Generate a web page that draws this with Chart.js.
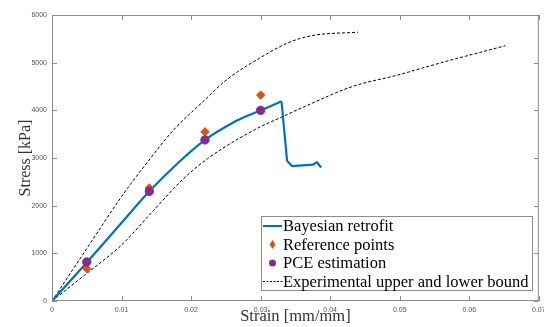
<!DOCTYPE html>
<html>
<head>
<meta charset="utf-8">
<script src="https://cdn.jsdelivr.net/npm/chart.js@4.4.0/dist/chart.umd.min.js"></script>
<style>
  html, body { margin: 0; padding: 0; background: #fff; }
  #wrap { width: 544px; height: 327px; position: relative; }
</style>
</head>
<body>
<div id="wrap"><canvas id="stressChart"></canvas></div>
<script>
// Bayesian retrofit curve: rising branch, then the drop after the peak
const bayesStrain = [0, 0.005, 0.010, 0.014, 0.018, 0.022, 0.026, 0.028, 0.030, 0.0318, 0.033];
const bayesStress = [0, 810, 1640, 2300, 2880, 3380, 3740, 3880, 4000, 4110, 4190];
const dropStrain = [0.033, 0.0338, 0.0345, 0.0375, 0.0381, 0.0387];
const dropStress = [4190, 2940, 2830, 2860, 2910, 2800];

// reference points and PCE estimation
const refStrain = [0.005, 0.014, 0.022, 0.030];
const refStress = [680, 2370, 3550, 4320];
const pceStrain = [0.005, 0.014, 0.022, 0.030];
const pceStress = [820, 2300, 3380, 4000];

// experimental bounds
const upperStrain = [0, 0.005, 0.010, 0.0136, 0.0175, 0.0217, 0.0251, 0.0298, 0.034, 0.0375, 0.044];
const upperStress = [0, 1100, 2190, 2890, 3590, 4180, 4640, 5090, 5420, 5570, 5640];
const lowerStrain = [0, 0.0026, 0.0047, 0.010, 0.0141, 0.0188, 0.0224, 0.0291, 0.0332, 0.0365, 0.0432, 0.0497, 0.056, 0.0652];
const lowerStress = [0, 300, 545, 1175, 1820, 2550, 2990, 3590, 3870, 4090, 4500, 4740, 5000, 5356];

const xTicks = [0, 0.01, 0.02, 0.03, 0.04, 0.05, 0.06, 0.07];
const yTicks = [0, 1000, 2000, 3000, 4000, 5000, 6000];

const legendLabels = ['Bayesian retrofit', 'Reference points', 'PCE estimation', 'Experimental upper and lower bound'];

const toPoints = (xs, ys) => xs.map((x, i) => ({ x: x, y: ys[i] }));

const blue = '#0072BD';
const orange = '#D95319';
const purple = '#7E2F8E';
const axisGray = '#8c8c8c';

// box + inward ticks, matlab style
const boxPlugin = {
    id: 'boxPlugin',
    afterDatasetsDraw(chart) {
        const { ctx, chartArea: a, scales } = chart;
        ctx.save();
        ctx.strokeStyle = axisGray;
        ctx.lineWidth = 1;
        ctx.strokeRect(a.left + 0.5, a.top + 0.5, a.right - a.left - 1, a.bottom - a.top - 1);
        ctx.beginPath();
        xTicks.forEach(v => {
            const px = Math.round(scales.x.getPixelForValue(v)) + 0.5;
            ctx.moveTo(px, a.bottom); ctx.lineTo(px, a.bottom - 5);
            ctx.moveTo(px, a.top); ctx.lineTo(px, a.top + 5);
        });
        yTicks.forEach(v => {
            const py = Math.round(scales.y.getPixelForValue(v)) + 0.5;
            ctx.moveTo(a.left, py); ctx.lineTo(a.left + 5, py);
            ctx.moveTo(a.right, py); ctx.lineTo(a.right - 5, py);
        });
        ctx.stroke();
        ctx.restore();
    }
};

// legend box in the lower right of the plot
const legendPlugin = {
    id: 'legendPlugin',
    afterDraw(chart) {
        const ctx = chart.ctx;
        const x0 = 261, y0 = 216, w = 271, h = 74, row = 18.5;
        ctx.save();
        ctx.fillStyle = '#fff';
        ctx.fillRect(x0, y0, w, h);
        ctx.strokeStyle = axisGray;
        ctx.lineWidth = 1;
        ctx.strokeRect(x0 + 0.5, y0 + 0.5, w, h);
        ctx.font = '16.5px "Liberation Serif", serif';
        ctx.textBaseline = 'middle';
        ctx.fillStyle = '#000';
        legendLabels.forEach((label, i) => {
            const cy = y0 + 10 + i * row;
            if (i === 0) {
                ctx.strokeStyle = blue; ctx.lineWidth = 2;
                ctx.beginPath(); ctx.moveTo(263, cy); ctx.lineTo(282, cy); ctx.stroke();
            } else if (i === 1) {
                ctx.fillStyle = orange;
                ctx.beginPath();
                ctx.moveTo(272.5, cy - 4.5); ctx.lineTo(275.5, cy); ctx.lineTo(272.5, cy + 4.5); ctx.lineTo(269.5, cy);
                ctx.closePath(); ctx.fill();
            } else if (i === 2) {
                ctx.fillStyle = purple;
                ctx.beginPath(); ctx.arc(272.5, cy, 3.5, 0, Math.PI * 2); ctx.fill();
            } else {
                ctx.strokeStyle = '#000'; ctx.lineWidth = 1;
                ctx.setLineDash([2, 1.5]);
                ctx.beginPath(); ctx.moveTo(263, cy); ctx.lineTo(283, cy); ctx.stroke();
                ctx.setLineDash([]);
            }
            ctx.fillStyle = '#000';
            ctx.fillText(label, 283, cy + 1);
        });
        ctx.restore();
    }
};

const boundStyle = {
    showLine: true,
    borderColor: '#000',
    borderWidth: 1,
    borderDash: [3, 2],
    pointRadius: 0,
    cubicInterpolationMode: 'monotone',
    order: 4
};

const ctx = document.getElementById('stressChart').getContext('2d');
const chart = new Chart(ctx, {
    type: 'scatter',
    data: {
        datasets: [
            Object.assign({ label: 'Experimental upper bound', data: toPoints(upperStrain, upperStress) }, boundStyle),
            Object.assign({ label: 'Experimental lower bound', data: toPoints(lowerStrain, lowerStress) }, boundStyle),
            {
                label: 'Bayesian retrofit',
                data: toPoints(bayesStrain, bayesStress),
                showLine: true,
                borderColor: blue,
                borderWidth: 2.2,
                pointRadius: 0,
                cubicInterpolationMode: 'monotone',
                order: 3
            },
            {
                label: 'Bayesian retrofit (drop)',
                data: toPoints(dropStrain, dropStress),
                showLine: true,
                borderColor: blue,
                borderWidth: 2.2,
                pointRadius: 0,
                borderJoinStyle: 'round',
                order: 3
            },
            {
                label: 'Reference points',
                data: toPoints(refStrain, refStress),
                pointStyle: 'rectRot',
                pointRadius: 4.2,
                backgroundColor: orange,
                borderColor: orange,
                order: 2
            },
            {
                label: 'PCE estimation',
                data: toPoints(pceStrain, pceStress),
                pointStyle: 'circle',
                pointRadius: 4.2,
                backgroundColor: purple,
                borderColor: purple,
                order: 1
            }
        ]
    },
    options: {
        responsive: true,
        maintainAspectRatio: false,
        animation: false,
        layout: { padding: { top: 15, right: 4, left: 0, bottom: 0 } },
        plugins: {
            legend: { display: false },
            tooltip: { enabled: false }
        },
        scales: {
            x: {
                type: 'linear',
                min: 0,
                max: 0.07,
                afterBuildTicks: s => { s.ticks = xTicks.map(v => ({ value: v })); },
                afterFit: s => { s.height = 26; s.paddingLeft = 0; s.paddingRight = 0; },
                grid: { display: false, drawTicks: false },
                border: { display: false },
                ticks: {
                    padding: 5,
                    maxRotation: 0,
                    color: '#555',
                    font: { family: '"Liberation Sans", Arial, sans-serif', size: 7 },
                    callback: v => v === 0 ? '0' : v.toFixed(2)
                },
                title: {
                    display: true,
                    text: 'Strain [mm/mm]',
                    color: '#333',
                    padding: 0,
                    font: { family: '"Liberation Serif", serif', size: 16.5 }
                }
            },
            y: {
                type: 'linear',
                min: 0,
                max: 6000,
                afterBuildTicks: s => { s.ticks = yTicks.map(v => ({ value: v })); },
                afterFit: s => { s.width = 52; s.paddingTop = 0; s.paddingBottom = 0; },
                grid: { display: false, drawTicks: false },
                border: { display: false },
                ticks: {
                    padding: 5,
                    color: '#555',
                    font: { family: '"Liberation Sans", Arial, sans-serif', size: 7 },
                    callback: v => String(v)
                },
                title: {
                    display: true,
                    text: 'Stress [kPa]',
                    color: '#333',
                    padding: { top: 16, bottom: 0 },
                    font: { family: '"Liberation Serif", serif', size: 16 }
                }
            }
        }
    },
    plugins: [boxPlugin, legendPlugin]
});
</script>
</body>
</html>
